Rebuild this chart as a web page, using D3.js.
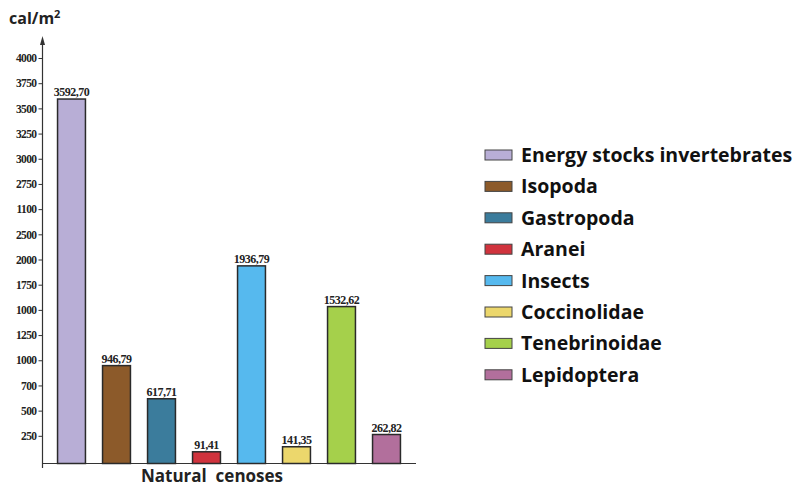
<!DOCTYPE html>
<html>
<head>
<meta charset="utf-8">
<script src="https://cdn.jsdelivr.net/npm/d3@7"></script>
<style>
  html, body { margin: 0; padding: 0; background: #fff; }
  svg { display: block; }
</style>
</head>
<body>
<svg id="chart" width="797" height="486"></svg>
<script>
// Energy stocks of invertebrates in natural cenoses (cal/m²)
const categories = ["Energy stocks invertebrates", "Isopoda", "Gastropoda", "Aranei",
                    "Insects", "Coccinolidae", "Tenebrinoidae", "Lepidoptera"];
const values = [3592.70, 946.79, 617.71, 91.41, 1936.79, 141.35, 1532.62, 262.82];
const valueLabels = ["3592,70", "946,79", "617,71", "91,41", "1936,79", "141,35", "1532,62", "262,82"];
const colors = ["#b8aed6", "#8c5a2a", "#3b7c9c", "#d0333d", "#56b9ee", "#ecd76c", "#a5d04b", "#b26f9c"];
const tickValues = [250, 500, 750, 1000, 1250, 1500, 1750, 2000, 2250, 2500, 2750, 3000, 3250, 3500, 3750, 4000];
const tickLabels = ["250", "500", "700", "1000", "1250", "1000", "1750", "2000", "2500", "1100", "2750", "3000", "3250", "3500", "3750", "4000"];
const yTitle = "cal/m";
const yTitleSup = "2";
const xTitle = "Natural  cenoses";

const sans = "'Open Sans', 'Noto Sans', sans-serif";
const serif = "'Liberation Serif', 'DejaVu Serif', serif";

const svg = d3.select("#chart");

const x = d3.scaleBand()
  .domain(categories)
  .range([49, 409])
  .paddingInner(0.38)
  .paddingOuter(0.19);

const y = d3.scaleLinear()
  .domain([0, 4000])
  .range([461, 58]);

const axisX = 42.5;
const baseY = 463.5;

// y axis ticks with their labels
const yAxis = d3.axisLeft(y)
  .tickValues(tickValues)
  .tickSize(4)
  .tickPadding(2)
  .tickFormat((d, i) => tickLabels[i]);

const gy = svg.append("g")
  .attr("transform", `translate(${axisX},0)`)
  .call(yAxis);
gy.select(".domain").remove();
gy.selectAll(".tick line").attr("stroke", "#333").attr("stroke-width", 1);
gy.selectAll(".tick text")
  .attr("fill", "#222")
  .style("font-family", serif)
  .style("font-weight", "bold")
  .style("font-size", "11.5px")
  .style("letter-spacing", "-0.6px");

// vertical axis line with arrow tip
svg.append("line")
  .attr("x1", axisX).attr("x2", axisX)
  .attr("y1", 40).attr("y2", 468)
  .attr("stroke", "#333").attr("stroke-width", 1.2);
svg.append("path")
  .attr("d", `M${axisX},36 L${axisX - 2.5},45 L${axisX + 2.5},45 Z`)
  .attr("fill", "#333");

// horizontal baseline
svg.append("line")
  .attr("x1", axisX).attr("x2", 416)
  .attr("y1", baseY).attr("y2", baseY)
  .attr("stroke", "#333").attr("stroke-width", 1.2);

// bars
svg.append("g")
  .selectAll("rect")
  .data(values)
  .join("rect")
  .attr("x", (d, i) => x(categories[i]))
  .attr("y", d => y(d))
  .attr("width", x.bandwidth())
  .attr("height", d => baseY - y(d))
  .attr("fill", (d, i) => colors[i])
  .attr("stroke", "#2a2a2a")
  .attr("stroke-width", 1.5);

// value labels above bars
svg.append("g")
  .selectAll("text")
  .data(values)
  .join("text")
  .attr("x", (d, i) => x(categories[i]) + x.bandwidth() / 2)
  .attr("y", d => y(d) - 3)
  .attr("text-anchor", "middle")
  .attr("fill", "#222")
  .style("font-family", serif)
  .style("font-weight", "bold")
  .style("font-size", "12px")
  .style("letter-spacing", "-0.5px")
  .text((d, i) => valueLabels[i]);

// axis titles
const yt = svg.append("text")
  .attr("x", 9).attr("y", 24)
  .attr("fill", "#222")
  .style("font-family", sans)
  .style("font-weight", "bold")
  .style("font-size", "16px");
yt.append("tspan").text(yTitle);
yt.append("tspan")
  .attr("dy", -6)
  .style("font-size", "11px")
  .text(yTitleSup);

svg.append("text")
  .attr("x", 212).attr("y", 482)
  .attr("text-anchor", "middle")
  .attr("fill", "#222")
  .style("font-family", sans)
  .style("font-weight", "bold")
  .style("font-size", "17px")
  .style("white-space", "pre")
  .attr("xml:space", "preserve")
  .text(xTitle);

// legend
const legend = svg.append("g");
const rows = legend.selectAll("g")
  .data(categories)
  .join("g")
  .attr("transform", (d, i) => `translate(485,${155 + i * 31.4})`);
rows.append("rect")
  .attr("x", 0).attr("y", -5)
  .attr("width", 27).attr("height", 10)
  .attr("fill", (d, i) => colors[i])
  .attr("stroke", "#444")
  .attr("stroke-width", 1);
rows.append("text")
  .attr("x", 36).attr("y", 7)
  .attr("fill", "#111")
  .style("font-family", sans)
  .style("font-weight", "bold")
  .style("font-size", "19.5px")
  .text(d => d);
</script>
</body>
</html>
